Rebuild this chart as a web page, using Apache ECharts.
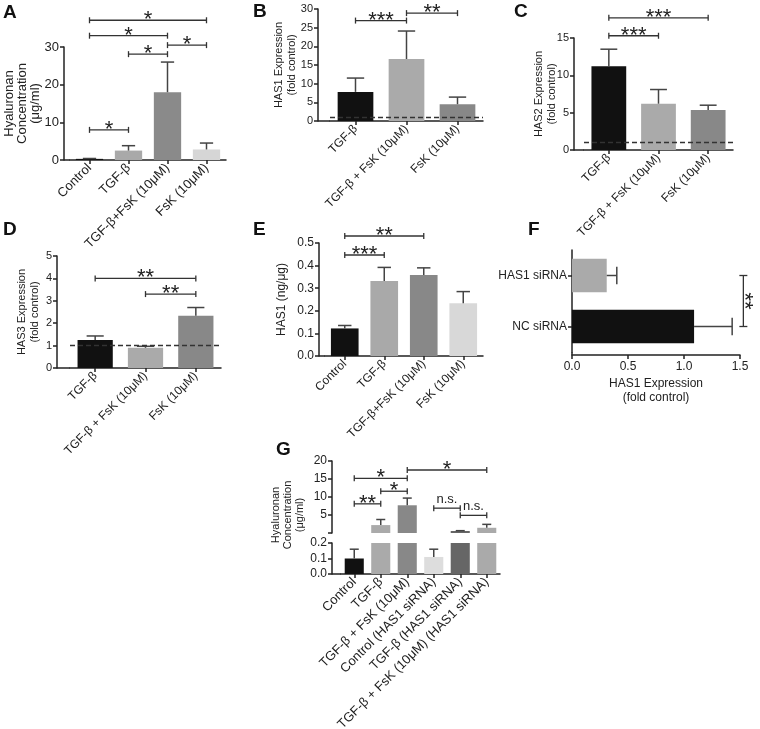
<!DOCTYPE html>
<html>
<head>
<meta charset="utf-8">
<script src="https://cdn.jsdelivr.net/npm/echarts@6/dist/echarts.min.js"></script>
<style>
  html, body { margin: 0; background: #fff; }
  #chart { width: 760px; height: 729px; }
</style>
</head>
<body>
<div id="chart"></div>
<script>
// ---- data ----
// A: hyaluronan concentration (ug/ml)
const catsA = ['Control', 'TGF-β', 'TGF-β+FsK (10μM)', 'FsK (10μM)'];
const valsA = [0.3, 2.5, 18.0, 2.8];
const errA = [0.1, 1.3, 8.0, 1.7];
const sigA = [[0, 1, 8, '*'], [1, 2, 28.1, '*'], [2, 3, 30.5, '*'], [0, 2, 33, '*'], [0, 3, 37.1, '*']];

// B: HAS1 expression (fold control)
const catsB = ['TGF-β', 'TGF-β + FsK (10μM)', 'FsK (10μM)'];
const valsB = [7.8, 16.6, 4.5];
const errB = [3.7, 7.5, 1.9];
const sigB = [[0, 1, 26.9, '***'], [1, 2, 28.9, '**']];

// C: HAS2 expression (fold control)
const catsC = ['TGF-β', 'TGF-β + FsK (10μM)', 'FsK (10μM)'];
const valsC = [11.2, 6.2, 5.35];
const errC = [2.3, 1.9, 0.65];
const sigC = [[0, 1, 15.3, '***'], [0, 2, 17.7, '***']];

// D: HAS3 expression (fold control)
const catsD = ['TGF-β', 'TGF-β + FsK (10μM)', 'FsK (10μM)'];
const valsD = [1.25, 0.9, 2.33];
const errD = [0.18, 0.07, 0.37];
const sigD = [[0, 2, 4.0, '**'], [1, 2, 3.3, '**']];

// E: HAS1 (ng/ug)
const catsE = ['Control', 'TGF-β', 'TGF-β+FsK (10μM)', 'FsK (10μM)'];
const valsE = [0.122, 0.332, 0.358, 0.233];
const errE = [0.013, 0.06, 0.032, 0.052];
const sigE = [[0, 1, 0.447, '***'], [0, 2, 0.531, '**']];

// F: HAS1 knock-down
const catsF = ['HAS1 siRNA', 'NC siRNA'];
const valsF = [0.31, 1.09];
const errF = [0.09, 0.34];
const sigF = [[0, 1, 1.53, '**']];

// G: hyaluronan concentration with HAS1 siRNA (broken axis)
const catsG = ['Control', 'TGF-β', 'TGF-β + FsK (10μM)', 'Control (HAS1 siRNA)', 'TGF-β (HAS1 siRNA)', 'TGF-β + FsK (10μM) (HAS1 siRNA)'];
const valsG = [0.1, 2.2, 7.7, 0.11, 0.55, 1.45];
const errG = [0.06, 1.55, 2.0, 0.05, 0.1, 0.95];
const sigG = [[0, 1, 8.1, '**'], [1, 2, 11.6, '*'], [0, 2, 15.2, '*'], [2, 5, 17.5, '*'], [3, 4, 6.9, 'n.s.'], [4, 5, 4.9, 'n.s.']];
const breakG = 0.2; // top of the lower segment

// ---- styles ----
const FONT = 'Liberation Sans';
const INK = '#222';
const colsA = ['#111', '#a9a9a9', '#8a8a8a', '#d6d6d6'];
const colsB = ['#111', '#aaa', '#888'];
const colsE = ['#111', '#a9a9a9', '#888', '#d8d8d8'];
const colsF = ['#aaa', '#111'];
const colsG = ['#111', '#aaa', '#888', '#ddd', '#666', '#aaa'];

const grids = [
  { left: 70, top: 47, width: 156, height: 113 },  // A
  { left: 330, top: 9, width: 153, height: 112 },  // B
  { left: 584, top: 38, width: 149, height: 112 }, // C
  { left: 70, top: 256, width: 151, height: 112 }, // D
  { left: 325, top: 243, width: 158, height: 113 },// E
  { left: 572, top: 250, width: 168, height: 102 },// F
  { left: 341, top: 461, width: 159, height: 72 }, // G upper
  { left: 341, top: 543, width: 159, height: 31 }  // G lower
];
const yOff = [6, 12, 10, 13, 6, 0, 9, 9];

const lineSt = { color: INK, width: 1.5 };

function catAxis(gi, cats, size) {
  return {
    type: 'category', gridIndex: gi, data: cats,
    axisLine: { show: true, lineStyle: lineSt },
    axisTick: { show: true, alignWithLabel: true, length: 4, lineStyle: lineSt },
    axisLabel: { rotate: 45, interval: 0, margin: 6, fontSize: size, color: INK, fontFamily: FONT }
  };
}

function valAxis(gi, min, max, step, size, name, gap, fmt, lh) {
  return {
    type: 'value', gridIndex: gi, min: min, max: max, interval: step, offset: yOff[gi],
    splitLine: { show: false },
    axisLine: { show: true, lineStyle: lineSt },
    axisTick: { show: true, length: 4, lineStyle: lineSt },
    axisLabel: { margin: 5, fontSize: size, color: INK, fontFamily: FONT, formatter: fmt },
    name: name, nameLocation: 'middle', nameGap: gap, nameMoveOverlap: false,
    nameTextStyle: { fontSize: size, color: INK, fontFamily: FONT, lineHeight: lh || size + 2 }
  };
}

function bars(gi, vals, cols, dashed) {
  const s = {
    type: 'bar', xAxisIndex: gi, yAxisIndex: gi, barWidth: '70%',
    data: vals.map((v, i) => ({ value: v, itemStyle: { color: cols[i] } }))
  };
  if (dashed) {
    s.markLine = {
      silent: true, symbol: 'none', label: { show: false },
      lineStyle: { type: [5, 3], color: '#333', width: 1.4 },
      data: [{ yAxis: 1 }]
    };
  }
  return s;
}

function errBars(gi, vals, errs, keep, horizontal) {
  const idx = vals.map((v, i) => i).filter(keep || (() => true));
  return {
    type: 'custom', xAxisIndex: gi, yAxisIndex: gi, z: 3,
    data: idx.map(i => horizontal ? [vals[i], i, errs[i]] : [i, vals[i], errs[i]]),
    renderItem: function (params, api) {
      const st = { stroke: '#444', lineWidth: 1.5 };
      if (horizontal) {
        const v = api.value(0), c = api.value(1), e = api.value(2);
        const a = api.coord([v, c]), b = api.coord([v + e, c]);
        const h = api.size([0, 1])[1] * 0.17;
        return { type: 'group', children: [
          { type: 'line', shape: { x1: a[0], y1: a[1], x2: b[0], y2: b[1] }, style: st },
          { type: 'line', shape: { x1: b[0], y1: b[1] - h, x2: b[0], y2: b[1] + h }, style: st }
        ] };
      }
      const c = api.value(0), v = api.value(1), e = api.value(2);
      const a = api.coord([c, v]), b = api.coord([c, v + e]);
      const h = api.size([1, 0])[0] * 0.17;
      return { type: 'group', children: [
        { type: 'line', shape: { x1: a[0], y1: a[1], x2: b[0], y2: b[1] }, style: st },
        { type: 'line', shape: { x1: b[0] - h, y1: b[1], x2: b[0] + h, y2: b[1] }, style: st }
      ] };
    }
  };
}

function sigBars(gi, list) {
  return {
    type: 'custom', xAxisIndex: gi, yAxisIndex: gi, z: 4,
    data: list.map(s => [s[0], s[2]]),
    renderItem: function (params, api) {
      const s = list[params.dataIndex];
      const p1 = api.coord([s[0], s[2]]), p2 = api.coord([s[1], s[2]]);
      const star = s[3].indexOf('*') >= 0;
      const st = { stroke: '#333', lineWidth: 1.3 };
      return { type: 'group', children: [
        { type: 'line', shape: { x1: p1[0], y1: p1[1], x2: p2[0], y2: p2[1] }, style: st },
        { type: 'line', shape: { x1: p1[0], y1: p1[1] - 3, x2: p1[0], y2: p1[1] + 3 }, style: st },
        { type: 'line', shape: { x1: p2[0], y1: p2[1] - 3, x2: p2[0], y2: p2[1] + 3 }, style: st },
        { type: 'text', x: (p1[0] + p2[0]) / 2, y: p1[1] + (star ? 11 : -2),
          style: { text: s[3], align: 'center', verticalAlign: 'bottom',
                   font: (star ? '22px ' : '13px ') + FONT, fill: INK } }
      ] };
    }
  };
}

function sigBarsVertical(gi, list) {
  return {
    type: 'custom', xAxisIndex: gi, yAxisIndex: gi, z: 4,
    data: list.map(s => [s[2], s[0]]),
    renderItem: function (params, api) {
      const s = list[params.dataIndex];
      const p1 = api.coord([s[2], s[0]]), p2 = api.coord([s[2], s[1]]);
      const st = { stroke: '#333', lineWidth: 1.3 };
      return { type: 'group', children: [
        { type: 'line', shape: { x1: p1[0], y1: p1[1], x2: p2[0], y2: p2[1] }, style: st },
        { type: 'line', shape: { x1: p1[0] - 4, y1: p1[1], x2: p1[0] + 4, y2: p1[1] }, style: st },
        { type: 'line', shape: { x1: p2[0] - 4, y1: p2[1], x2: p2[0] + 4, y2: p2[1] }, style: st },
        { type: 'text', x: p1[0] + 1, y: (p1[1] + p2[1]) / 2, rotation: -Math.PI / 2,
          style: { text: s[3], align: 'center', verticalAlign: 'middle', font: '22px ' + FONT, fill: INK } }
      ] };
    }
  };
}

const fix1 = v => v.toFixed(1);

const chart = echarts.init(document.getElementById('chart'));

// little segments joining the offset y axes to the x axes
const corners = grids.map((g, i) => {
  if (i === 5 || i === 6) return null;
  const b = g.top + g.height;
  return { type: 'line', shape: { x1: g.left - yOff[i], y1: b, x2: g.left, y2: b }, style: { stroke: INK, lineWidth: 1.5 } };
}).filter(Boolean);
corners.push({ type: 'line', shape: { x1: 572, y1: 352, x2: 572, y2: 355 }, style: { stroke: INK, lineWidth: 1.5 } });

const letters = [['A', 3, 3], ['B', 253, 2], ['C', 514, 2], ['D', 3, 220], ['E', 253, 220], ['F', 528, 220], ['G', 276, 440]]
  .map(l => ({ type: 'text', left: l[1], top: l[2], style: { text: l[0], font: 'bold 19px ' + FONT, fill: '#111' } }));

const option = {
  animation: false,
  backgroundColor: '#fff',
  grid: grids.map(g => Object.assign({ outerBoundsMode: 'none', containLabel: false }, g)),
  xAxis: [
    catAxis(0, catsA, 13),
    catAxis(1, catsB, 12),
    catAxis(2, catsC, 12),
    catAxis(3, catsD, 12),
    catAxis(4, catsE, 12),
    {
      type: 'value', gridIndex: 5, min: 0, max: 1.5, interval: 0.5, offset: 3,
      splitLine: { show: false },
      axisLine: { show: true, lineStyle: lineSt },
      axisTick: { show: true, length: 4, lineStyle: lineSt },
      axisLabel: { margin: 6, fontSize: 12, color: INK, fontFamily: FONT, formatter: fix1 },
      name: 'HAS1 Expression\n(fold control)', nameLocation: 'middle', nameGap: 22, nameMoveOverlap: false,
      nameTextStyle: { fontSize: 12, color: INK, fontFamily: FONT, lineHeight: 14, verticalAlign: 'top' }
    },
    { type: 'category', gridIndex: 6, data: catsG, show: false },
    catAxis(7, catsG, 13)
  ],
  yAxis: [
    valAxis(0, 0, 30, 10, 13, 'Hyaluronan\nConcentration\n(μg/ml)', 22, null, 13),
    valAxis(1, 0, 30, 5, 11, 'HAS1 Expression\n(fold control)', 20),
    valAxis(2, 0, 15, 5, 11, 'HAS2 Expression\n(fold control)', 16),
    valAxis(3, 0, 5, 1, 11, 'HAS3 Expression\n(fold control)', 16),
    valAxis(4, 0, 0.5, 0.1, 12, 'HAS1 (ng/μg)', 30, fix1),
    {
      type: 'category', gridIndex: 5, data: catsF, inverse: true,
      axisLine: { show: true, lineStyle: lineSt },
      axisTick: { show: true, alignWithLabel: true, length: 4, lineStyle: lineSt },
      axisLabel: { margin: 5, fontSize: 12, color: INK, fontFamily: FONT }
    },
    valAxis(6, 0, 20, 5, 12, '', 0, v => (v === 0 ? '' : String(v))),
    valAxis(7, 0, 0.2, 0.1, 12, '', 0, fix1)
  ],
  graphic: corners.concat(letters).concat([{
    type: 'text', x: 306, y: 515, rotation: Math.PI / 2,
    style: { text: 'Hyaluronan\nConcentration\n(μg/ml)', align: 'center', verticalAlign: 'bottom',
             font: '11px ' + FONT, lineHeight: 12, fill: INK }
  }]),
  series: [
    bars(0, valsA, colsA), errBars(0, valsA, errA), sigBars(0, sigA),
    bars(1, valsB, colsB, true), errBars(1, valsB, errB), sigBars(1, sigB),
    bars(2, valsC, colsB, true), errBars(2, valsC, errC), sigBars(2, sigC),
    bars(3, valsD, colsB, true), errBars(3, valsD, errD), sigBars(3, sigD),
    bars(4, valsE, colsE), errBars(4, valsE, errE), sigBars(4, sigE),
    {
      type: 'bar', xAxisIndex: 5, yAxisIndex: 5, barWidth: '66%',
      data: valsF.map((v, i) => ({ value: v, itemStyle: { color: colsF[i] } }))
    },
    errBars(5, valsF, errF, null, true), sigBarsVertical(5, sigF),
    // G upper segment: only bars that reach past the break
    {
      type: 'bar', xAxisIndex: 6, yAxisIndex: 6, barWidth: '72%',
      data: valsG.map((v, i) => (v < breakG ? '-' : { value: v, itemStyle: { color: colsG[i] } }))
    },
    errBars(6, valsG, errG, i => valsG[i] >= breakG), sigBars(6, sigG),
    // G lower segment, clipped at the break
    {
      type: 'bar', xAxisIndex: 7, yAxisIndex: 7, barWidth: '72%', clip: true,
      data: valsG.map((v, i) => ({ value: v, itemStyle: { color: colsG[i] } }))
    },
    errBars(7, valsG, errG, i => valsG[i] < breakG)
  ]
};

chart.setOption(option);
</script>
</body>
</html>
